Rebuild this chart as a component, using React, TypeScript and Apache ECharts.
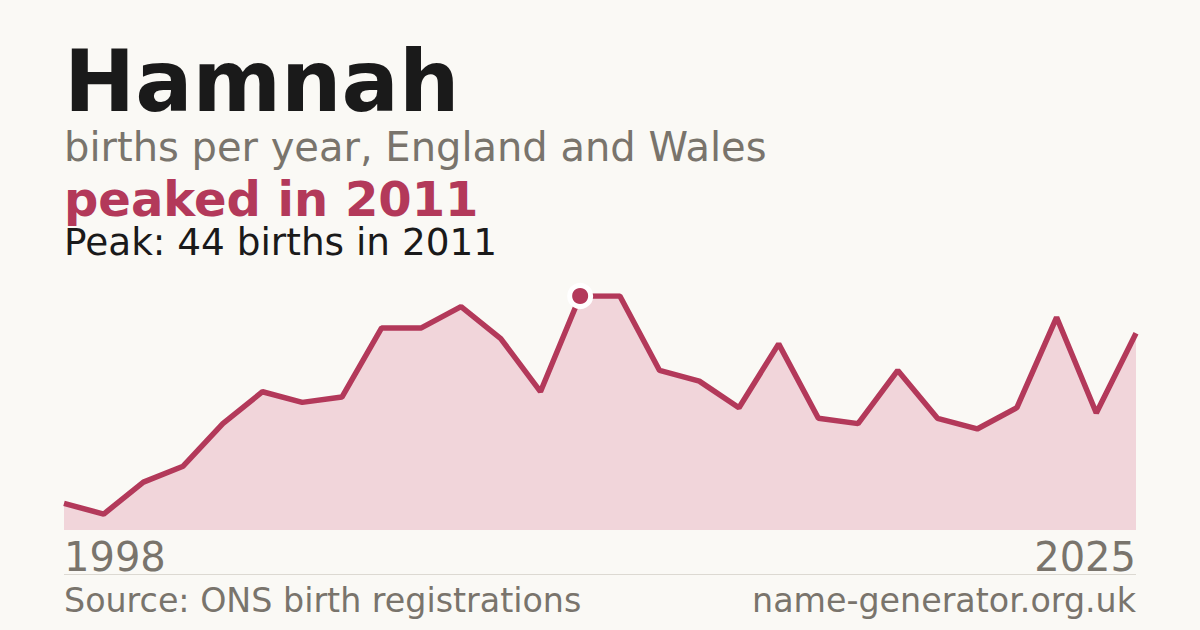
import { useEffect, useRef } from "react";
import * as echarts from "echarts";

const years = [
  "1998", "1999", "2000", "2001", "2002", "2003", "2004", "2005", "2006", "2007",
  "2008", "2009", "2010", "2011", "2012", "2013", "2014", "2015", "2016", "2017",
  "2018", "2019", "2020", "2021", "2022", "2023", "2024", "2025",
];
const births = [
  5, 3, 9, 12, 20, 26, 24, 25, 38, 38,
  42, 36, 26, 44, 44, 30, 28, 23, 35, 21,
  20, 30, 21, 19, 23, 40, 22, 37,
];
const peakYear = "2011";
const peakValue = 44;

const FONT = "DejaVu Sans";
const ACCENT = "#b3395a";
const GREY = "#79746c";
const BG = "#faf9f5";

const App = () => {
  const chartRef = useRef<HTMLDivElement>(null);

  useEffect(() => {
    if (!chartRef.current) return;
    document.body.style.margin = "0";
    document.body.style.background = BG;
    const chart = echarts.init(chartRef.current, undefined, { renderer: "svg" });

    const option: echarts.EChartsOption = {
      animation: false,
      backgroundColor: BG,
      grid: { left: 64, right: 64, top: 296, bottom: 100 },
      xAxis: {
        type: "category",
        data: years,
        boundaryGap: false,
        show: false,
      },
      yAxis: {
        type: "value",
        min: 0,
        max: peakValue,
        show: false,
      },
      series: [
        {
          type: "line",
          data: births,
          showSymbol: false,
          lineStyle: { color: ACCENT, width: 5.5 },
          areaStyle: { color: "#f1d5da", opacity: 1 },
          z: 2,
        },
        {
          type: "scatter",
          data: [[peakYear, peakValue]],
          symbol: "circle",
          symbolSize: 21,
          itemStyle: { color: ACCENT, borderColor: "#ffffff", borderWidth: 5, opacity: 1 },
          z: 3,
        },
      ],
      graphic: [
        {
          type: "text",
          left: 64,
          top: 39,
          style: { text: "Hamnah", font: `bold 85px "${FONT}"`, fill: "#1a1a1a" },
        },
        {
          type: "text",
          left: 64,
          top: 127,
          style: { text: "births per year, England and Wales", font: `40px "${FONT}"`, fill: GREY },
        },
        {
          type: "text",
          left: 64,
          top: 175,
          style: { text: "peaked in 2011", font: `bold 48px "${FONT}"`, fill: ACCENT },
        },
        {
          type: "text",
          left: 64,
          top: 223,
          style: { text: `Peak: ${peakValue} births in ${peakYear}`, font: `37.4px "${FONT}"`, fill: "#1a1a1a" },
        },
        {
          type: "text",
          left: 64,
          top: 537,
          style: { text: years[0], font: `40px "${FONT}"`, fill: GREY },
        },
        {
          type: "text",
          right: 64,
          top: 537,
          style: { text: years[years.length - 1], font: `40px "${FONT}"`, fill: GREY },
        },
        {
          type: "line",
          shape: { x1: 64, y1: 574.5, x2: 1136, y2: 574.5 },
          style: { stroke: "#dcd9d2", lineWidth: 1 },
        },
        {
          type: "text",
          left: 64,
          top: 584,
          style: { text: "Source: ONS birth registrations", font: `33.3px "${FONT}"`, fill: GREY },
        },
        {
          type: "text",
          right: 64,
          top: 584,
          style: { text: "name-generator.org.uk", font: `33.3px "${FONT}"`, fill: GREY },
        },
      ],
    };

    chart.setOption(option);
    return () => {
      chart.dispose();
    };
  }, []);

  return <div ref={chartRef} style={{ width: 1200, height: 630 }} />;
};

export default App;
